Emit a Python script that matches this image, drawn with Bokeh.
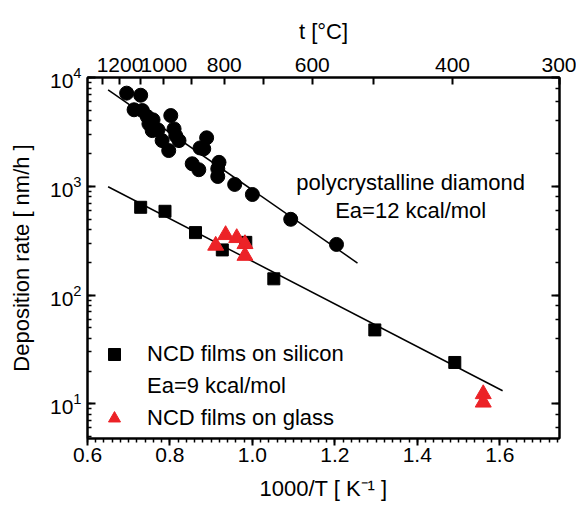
from bokeh.plotting import figure
from bokeh.models import (Range1d, LinearAxis, LogAxis, FixedTicker, SingleIntervalTicker,
                          LogTicker, CustomJSTickFormatter, PrintfTickFormatter, Legend,
                          LegendItem, Label)
from bokeh.embed import file_html
from bokeh.resources import INLINE

FONT = "Liberation Sans"
RED = "#ec2227"

# ---- data ----
# polycrystalline diamond: 1000/T [1/K], deposition rate [nm/h]
pcd_x = [0.695, 0.729, 0.713, 0.733, 0.745, 0.759, 0.749, 0.757, 0.771, 0.781,
         0.797, 0.802, 0.810, 0.814, 0.822, 0.873, 0.882, 0.889, 0.854, 0.870,
         0.919, 0.916, 0.916, 0.957, 1.000, 1.093, 1.204]
pcd_rate = [7180, 6870, 5050, 4970, 4370, 4080, 3750, 3250, 3300, 2630,
            2130, 4470, 3370, 2920, 2630, 2250, 2210, 2790, 1610, 1420,
            1660, 1450, 1230, 1040, 840, 497, 292]
# NCD films on silicon
si_x = [0.729, 0.788, 0.862, 0.927, 0.984, 1.052, 1.297, 1.491]
si_rate = [641, 589, 375, 260, 305, 141, 47.8, 24.0]
# NCD films on glass
glass_x = [0.911, 0.935, 0.962, 0.982, 0.982, 1.560, 1.560]
glass_rate = [285, 357, 335, 295, 230, 12.3, 10.3]
# Arrhenius fits (end points)
pcd_fit_x = [0.650, 1.255]
pcd_fit_rate = [7700, 197]
si_fit_x = [0.650, 1.607]
si_fit_rate = [990, 13.2]
# top axis: temperature in deg C
top_ticks_c = [1300, 1200, 1100, 1000, 900, 800, 700, 600, 500, 400, 300]
top_labels_c = [1200, 1000, 800, 600, 400, 300]

p = figure(frame_width=472, frame_height=361,
           min_border_left=87, min_border_right=17, min_border_top=77, min_border_bottom=69,
           x_range=Range1d(0.6, 1.745), y_range=Range1d(4.8, 1e4),
           y_axis_type="log", output_backend="svg", toolbar_location=None,
           background_fill_color="white", border_fill_color="white")
p.grid.visible = False
p.outline_line_color = "black"
p.outline_line_width = 2

# fit lines
p.line(pcd_fit_x, pcd_fit_rate, line_color="black", line_width=1.5)
p.line(si_fit_x, si_fit_rate, line_color="black", line_width=1.5)

# markers
p.scatter(pcd_x, pcd_rate, marker="circle", size=14, color="black")
r_si = p.scatter(si_x, si_rate, marker="square", size=12, color="black")
r_gl = p.scatter(glass_x, glass_rate, marker="triangle", size=16, color=RED)
r_blank = p.scatter([], [], marker="square", fill_alpha=0, line_alpha=0)


def style_axis(ax, tick_in, tick_out, minor_in, minor_out):
    ax.axis_line_width = 2
    ax.axis_line_color = "black"
    ax.major_tick_line_width = 2
    ax.minor_tick_line_width = 1.5
    ax.major_tick_in = tick_in
    ax.major_tick_out = tick_out
    ax.minor_tick_in = minor_in
    ax.minor_tick_out = minor_out
    ax.major_label_text_font = FONT
    ax.major_label_text_font_size = "21px"
    ax.major_label_text_color = "black"
    ax.axis_label_text_font = FONT
    ax.axis_label_text_font_size = "22px"
    ax.axis_label_text_font_style = "normal"
    ax.axis_label_text_color = "black"


# bottom axis
xa = p.xaxis[0]
xa.ticker = SingleIntervalTicker(interval=0.2, num_minor_ticks=10)
xa.formatter = PrintfTickFormatter(format="%.1f")
xa.axis_label = "1000/T [ K\u207b\u00b9 ]"
style_axis(xa, 0, 7, 0, 4)
xa.major_label_standoff = 2
xa.axis_label_standoff = 11

# left axis
ya = p.yaxis[0]
ya.axis_label = "Deposition rate [ nm/h ]"
style_axis(ya, 8, 0, 4, 0)
ya.major_label_standoff = 6
ya.axis_label_standoff = 13

# right axis (ticks only)
ra = LogAxis(ticker=LogTicker(), formatter=CustomJSTickFormatter(code="return ''"))
style_axis(ra, 8, 0, 4, 0)
ra.major_label_standoff = 0
p.add_layout(ra, "right")

# top axis: temperature
top_pos = [1000.0 / (t + 273.15) for t in top_ticks_c]
ta = LinearAxis(ticker=FixedTicker(ticks=top_pos, minor_ticks=[]),
                formatter=CustomJSTickFormatter(
                    args=dict(labels=top_labels_c),
                    code="const t = Math.round((1000/tick - 273.15)/100)*100;"
                         "return labels.includes(t) ? String(t) : '';"),
                axis_label="t [\u00b0C]")
style_axis(ta, 7, 0, 0, 0)
ta.major_label_standoff = 6
ta.axis_label_standoff = 11
p.add_layout(ta, "above")

# annotations
for txt, yv in [("polycrystalline diamond", 1080), ("Ea=12 kcal/mol", 597)]:
    p.add_layout(Label(x=1.384, y=yv, text=txt, text_align="center", text_baseline="middle",
                       text_font=FONT, text_font_size="22px", text_color="black"))

legend = Legend(items=[LegendItem(label="NCD films on silicon", renderers=[r_si]),
                       LegendItem(label="Ea=9 kcal/mol", renderers=[r_blank]),
                       LegendItem(label="NCD films on glass", renderers=[r_gl])],
                location=(12, 5), padding=0, margin=0, spacing=2,
                glyph_width=30, glyph_height=30, label_height=30, label_standoff=18,
                label_text_font=FONT, label_text_font_size="22px",
                label_text_color="black",
                border_line_color=None, background_fill_alpha=0)
p.add_layout(legend)

open("out.html", "w").write(file_html(p, INLINE))
